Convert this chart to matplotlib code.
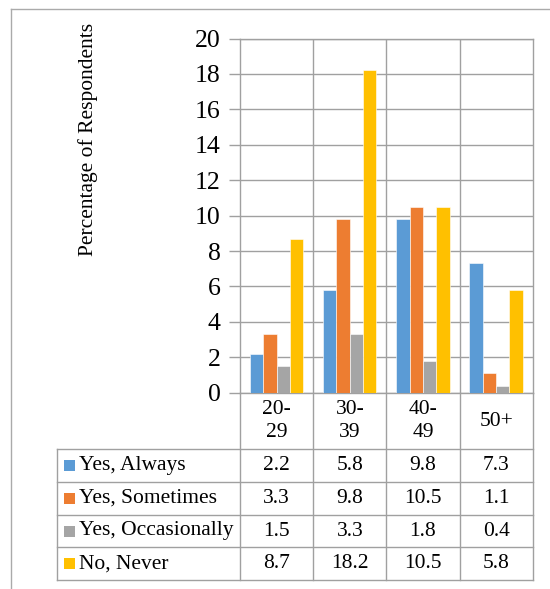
import matplotlib.pyplot as plt
from matplotlib.patches import Rectangle

# Age groups and survey responses (percentage of respondents)
age_groups = ["20-\n29", "30-\n39", "40-\n49", "50+"]
series_names = ["Yes, Always", "Yes, Sometimes", "Yes, Occasionally", "No, Never"]
always = [2.2, 5.8, 9.8, 7.3]
sometimes = [3.3, 9.8, 10.5, 1.1]
occasionally = [1.5, 3.3, 1.8, 0.4]
never = [8.7, 18.2, 10.5, 5.8]
colors = ["#5B9BD5", "#ED7D31", "#A5A5A5", "#FFC000"]
y_ticks = list(range(0, 21, 2))

W, H = 550, 589
plt.rcParams["font.family"] = ["Liberation Serif", "DejaVu Serif"]
fig = plt.figure(figsize=(W / 100, H / 100), dpi=100)

grid_col = "#A0A0A0"


def fx(px):
    return px / W


def fy(py):
    return 1 - py / H


# plot area in pixels
left, right, top, bottom = 240, 532.7, 38.5, 392.7
ax = fig.add_axes([fx(left), fy(bottom), fx(right) - fx(left), fy(top) - fy(bottom)])

all_series = [always, sometimes, occasionally, never]
n = len(all_series)
bar_w = 0.182
for i, (vals, col) in enumerate(zip(all_series, colors)):
    xs = [k + 0.5 + (i - (n - 1) / 2) * bar_w for k in range(len(vals))]
    ax.bar(xs, vals, width=bar_w, color=col, edgecolor="white", linewidth=0.4, zorder=3)

ax.set_xlim(0, len(age_groups))
ax.set_ylim(0, 20)
ax.set_yticks(y_ticks)
ax.set_yticklabels([str(t) for t in y_ticks], fontsize=18.5)
ax.set_xticks([])
ax.yaxis.grid(True, color=grid_col, linewidth=1.0, zorder=0)
ax.tick_params(axis="y", length=8, color=grid_col, width=1.0, pad=6)
for s in ax.spines.values():
    s.set_color(grid_col)
    s.set_linewidth(1.0)
for k in range(1, len(age_groups)):
    ax.axvline(k, color=grid_col, linewidth=1.0, zorder=0)

fig.text(fx(88), fy(139), "Percentage of Respondents", rotation=90,
         ha="center", va="center", fontsize=15.5)

# data table underneath the chart
col_w = (right - left) / len(age_groups)
col_edges = [left + k * col_w for k in range(len(age_groups) + 1)]
row_edges = [449.3, 481.7, 514.7, 547.3, 580]
table_left = 56.7

line_kw = dict(color=grid_col, linewidth=1.0, transform=fig.transFigure)
for x in col_edges:
    fig.add_artist(plt.Line2D([fx(x), fx(x)], [fy(bottom), fy(row_edges[-1])], **line_kw))
fig.add_artist(plt.Line2D([fx(table_left), fx(table_left)],
                          [fy(row_edges[0]), fy(row_edges[-1])], **line_kw))
for y in row_edges:
    fig.add_artist(plt.Line2D([fx(table_left), fx(right)], [fy(y), fy(y)], **line_kw))

for k, label in enumerate(age_groups):
    cx = (col_edges[k] + col_edges[k + 1]) / 2
    fig.text(fx(cx), fy((bottom + row_edges[0]) / 2), label, ha="center",
             va="center", fontsize=15.5, linespacing=1.3)

for r, (name, vals, col) in enumerate(zip(series_names, all_series, colors)):
    cy = (row_edges[r] + row_edges[r + 1]) / 2
    fig.add_artist(Rectangle((fx(64), fy(cy + 5.5)), fx(11), fy(0) - fy(11),
                             facecolor=col, edgecolor="none",
                             transform=fig.transFigure))
    fig.text(fx(79), fy(cy), name, ha="left", va="center", fontsize=15.5)
    for k, v in enumerate(vals):
        cx = (col_edges[k] + col_edges[k + 1]) / 2
        fig.text(fx(cx), fy(cy), f"{v}", ha="center", va="center", fontsize=15.5)

# outer frame
frame_kw = dict(color="#AAAAAA", linewidth=1.0, transform=fig.transFigure)
fig.add_artist(plt.Line2D([fx(11), 1], [fy(9.3), fy(9.3)], **frame_kw))
fig.add_artist(plt.Line2D([fx(11), fx(11)], [fy(9.3), 0], **frame_kw))

fig.savefig("out.png", dpi=100)
